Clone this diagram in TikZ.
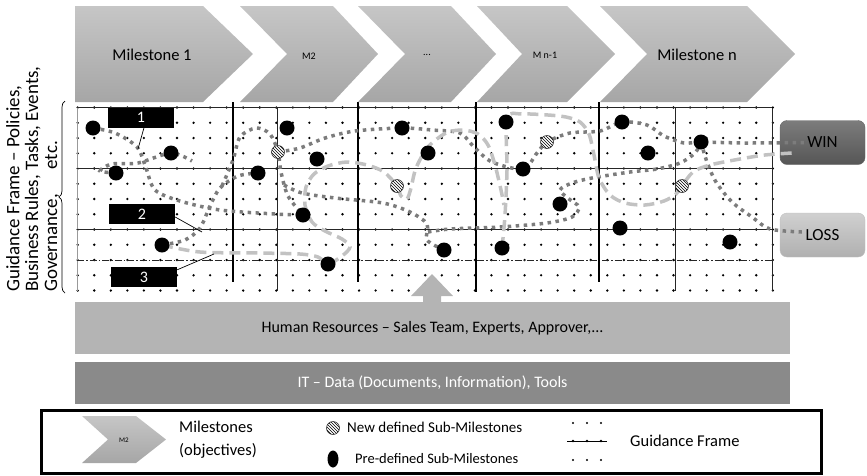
\documentclass[tikz,border=0pt]{standalone}
\usepackage{fontspec}
\setmainfont{Carlito}
\usetikzlibrary{decorations.pathreplacing, patterns, shapes.geometric, positioning}

\definecolor{chevtop}{RGB}{198,198,198}
\definecolor{chevbot}{RGB}{166,166,166}
\definecolor{trail}{RGB}{124,124,124}
\definecolor{route}{RGB}{194,194,194}
\definecolor{hrgray}{RGB}{180,180,180}
\definecolor{itgray}{RGB}{138,138,138}
\definecolor{wintop}{RGB}{124,124,124}
\definecolor{winbot}{RGB}{86,86,86}
\definecolor{losstop}{RGB}{208,208,208}
\definecolor{lossbot}{RGB}{176,176,176}

\pgfdeclarelayer{back}
\pgfdeclarelayer{trails}
\pgfsetlayers{back,trails,main}

\tikzset{
  chev/.style={top color=chevtop, bottom color=chevbot},
  smalltext/.style={font=\fontsize{10}{12}\selectfont},
  bigtext/.style={font=\fontsize{16.5}{20}\selectfont},
  gftext/.style={font=\fontsize{19}{21}\selectfont, rotate=90, anchor=base west, inner sep=0pt},
  premile/.style={circle, fill=black, minimum size=15pt, inner sep=0pt},
  newmile/.style={circle, draw=black!80, line width=0.6pt, fill=white, minimum size=13pt, inner sep=0pt, postaction={pattern=north west lines}},
  trailpath/.style={draw=trail, line width=3.5pt, dash pattern=on 3.5pt off 4.5pt},
  routepath/.style={draw=route, line width=3.5pt, dash pattern=on 11pt off 6pt},
  numbox/.style={fill=black, text=white, minimum width=66pt, minimum height=20pt, inner sep=0pt, font=\fontsize{16}{19}\selectfont},
  endbox/.style={rounded corners=7pt, minimum width=85pt, minimum height=44pt, inner sep=0pt, font=\fontsize{17}{20}\selectfont},
  band/.style={minimum width=715pt, inner sep=0pt, font=\fontsize{16}{19}\selectfont},
  gridline/.style={black!85, line width=0.9pt},
  milebar/.style={black, line width=2.6pt},
  pointer/.style={black, line width=0.7pt},
}

\begin{document}
\begin{tikzpicture}[x=1pt, y=-1pt]
\useasboundingbox (0,0) rectangle (867,475);

\begin{pgfonlayer}{back}
  \foreach \i in {0,...,42}
    \foreach \j in {0,...,12}
      \fill (77.7+16.55*\i, 107.5+15.25*\j) circle (1.3pt);
  \draw[gridline] (77,107.5) -- (772,107.5);
  \draw[gridline] (772,107.5) -- (772,290.5);
  \draw[black!40, line width=0.6pt] (77.7,107.5) -- (77.7,290.5);
  \draw[gridline] (77,168.5) -- (772,168.5);
  \draw[gridline] (77,229.5) -- (772,229.5);
  \draw[gridline, line width=0.7pt, dash pattern=on 7pt off 2pt on 1.5pt off 2pt] (77,260) -- (772,260);
  \foreach \x in {277,675}
    \draw[gridline] (\x,107.5) -- (\x,290.5);
  \foreach \x/\b in {233/282, 358/282, 476/292, 599/282}
    \draw[milebar] (\x,102) -- (\x,\b);
  \node[endbox, top color=wintop, bottom color=winbot, draw=black!60] (win) at (822.5,142.5) {WIN};
  \node[endbox, top color=losstop, bottom color=lossbot, draw=black!25] (loss) at (822.5,235) {LOSS};
  \coordinate (winin) at ([xshift=24pt]win.west);
  \coordinate (winlow) at ([xshift=12pt, yshift=-10.5pt]win.west);
  \coordinate (lossin) at ([xshift=22pt, yshift=3pt]loss.west);
\end{pgfonlayer}

% milestones
\path[chev] (75,6) -- (203,6) -- (253,54) -- (203,102) -- (75,102) -- cycle;
\foreach \l/\n/\r/\t in {240/287/333/378, 358/405/451/496, 477/522/567/615, 600/647/747/795}
  \path[chev] (\l,6) -- (\r,6) -- (\t,54) -- (\r,102) -- (\l,102) -- (\n,54) -- cycle;
\node[bigtext] (ms1) at (152,55) {Milestone 1};
\node[smalltext] (ms2) at (309,56) {M2};
\node[smalltext] (msdots) at (427,55) {...};
\node[smalltext] (msn1) at (545,55) {M n-1};
\node[bigtext] (msn) at (697,55) {Milestone n};

\node[gftext] (gf1) at (19.5,292) {Guidance Frame -- Policies,};
\node[gftext] (gf2) at (38,292) {Business Rules, Tasks, Events,};
\node[gftext] (gf3) at (57,292) {Governance,\hspace{1.3em}etc.};
\draw[decorate, decoration={brace, amplitude=6pt}, line width=0.7pt] (65,293) -- (65,101);

% sub-milestones
\foreach \n/\x/\y in {1/93/128, 2/171/153, 3/116/173, 4/258/173, 5/287/128, 6/317/159, 7/402/128,
    8/428/153, 9/303/215, 10/162/245, 11/328/264, 12/506/122, 13/523/169, 14/560/204,
    15/622/122, 16/648/153, 17/701/142, 18/620/228, 19/730/242, 20/502/248, 21/444/250}
  \node[premile] (p\n) at (\x,\y) {};
\foreach \n/\x/\y in {1/278/152, 2/397/186, 3/547/142, 4/682/186}
  \node[newmile] (n\n) at (\x,\y) {};

\begin{pgfonlayer}{trails}
  \draw[trailpath] plot[smooth] coordinates {(p1.center) (115,133) (137,147) (146,168) (155,190) (180,201) (220,210) (275,214) (p9.center)};
  \draw[trailpath] plot[smooth] coordinates {(p3.center) (100,171) (112,164) (138,163) (p2.center) (192,161)};
  \draw[trailpath] plot[smooth] coordinates {(p10.center) (185,240) (200,228) (210,206) (220,188) (238,176) (p4.center)};
  \draw[trailpath] plot[smooth] coordinates {(222,186) (233,160) (240,137) (256,128) (270,134) (n1.center) (281,172) (288,196) (p9.center)};
  \draw[trailpath] plot[smooth] coordinates {(n1.center) (300,148) (325,138) (355,131) (p7.center) (432,130) (460,133) (474,147) (492,162) (p13.center) (537,153) (n3.center) (570,133) (600,131) (p15.center) (647,125) (664,136) (684,143) (p17.center) (745,143) (winin)};
  \draw[trailpath] plot[smooth] coordinates {(284,185) (302,193) (335,198) (383,203) (410,212) (427,224) (427,240) (p21.center)};
  \draw[trailpath] plot[smooth] coordinates {(428,232) (450,229) (500,227) (547,223) (572,217) (579,207) (569,199) (560,190) (572,183) (592,178) (630,172) (657,169) (680,163) (695,153) (p17.center)};
  \draw[trailpath] plot[smooth] coordinates {(p17.center) (707,162) (716,182) (732,202) (752,217) (770,229) (lossin)};
  \draw[routepath] plot[smooth] coordinates {(p10.center) (200,252) (258,253) (300,254) (318,257) (p11.center) (342,256) (350,247) (342,239) (325,231) (312,222) (305,205) (306,187) (314,174) (328,166) (347,162) (367,165) (384,172) (n2.center) (401,196) (407,199) (411,188) (416,168) (428,147) (446,133) (463,130) (478,134) (488,145) (495,165) (501,190) (504,205)};
  \draw[routepath] plot[smooth] coordinates {(p20.center) (505,215) (507,170) (507,118) (522,114) (548,115) (566,117) (580,122) (589,134) (594,155) (599,178) (610,195) (625,203) (645,205) (664,201) (676,194) (n4.center) (693,172) (710,165) (740,159) (765,155) (winlow)};
\end{pgfonlayer}

% numbered tags
\node[numbox] (lab1) at (141,117.5) {1};
\node[numbox] (lab2) at (142,214) {2};
\node[numbox] (lab3) at (144,277) {3};
\coordinate (tip1) at (138,149);
\coordinate (tip2) at (202,232);
\coordinate (tip3) at (214,254);
\draw[pointer] ([xshift=3pt]lab1.south) -- (tip1);
\draw[pointer] ([yshift=-3pt]lab2.east) -- (tip2);
\draw[pointer] ([yshift=-3pt]lab3.north east) -- (tip3);

% resources
\fill[hrgray] (423,303) -- (423,296) -- (411,296) -- (432,274) -- (453,296) -- (441,296) -- (441,303) -- cycle;
\node[band, minimum height=52pt, fill=hrgray] (hr) at (432.5,328) {Human Resources -- Sales Team, Experts, Approver,...};
\node[band, minimum height=42pt, fill=itgray, text=white] (it) at (432.5,382.5) {IT -- Data (Documents, Information), Tools};

% legend
\draw[line width=3pt] (41,410) rectangle (821,473);
\path[chev] (82,416) -- (136,416) -- (166,439.5) -- (136,463) -- (82,463) -- (108,439.5) -- cycle;
\node[font=\fontsize{7}{8}\selectfont] (keyms) at (124,440) {M2};
\node[anchor=west, align=left, font=\fontsize{16.5}{23}\selectfont, inner sep=0pt] (keymstext) at (179,440) {Milestones\\(objectives)};
\node[newmile] (keynew) at (333,428) {};
\node[anchor=west, font=\fontsize{15}{17}\selectfont, inner sep=0pt] (keynewtext) at (347,427) {New defined Sub-Milestones};
\node[ellipse, fill=black, minimum width=11pt, minimum height=17pt, inner sep=0pt] (keypre) at (333,459) {};
\node[anchor=west, font=\fontsize{14.5}{17}\selectfont, inner sep=0pt] (keypretext) at (355,459) {Pre-defined Sub-Milestones};
\foreach \x in {573,587,601} {
  \fill (\x,423) circle (1.2pt);
  \fill (\x,441) circle (1.3pt);
  \fill (\x,460) circle (1.2pt);
}
\draw[line width=0.6pt] (567,441) -- (607,441);
\node[anchor=west, bigtext, inner sep=0pt] (keygf) at (630,441) {Guidance Frame};
\end{tikzpicture}
\end{document}
